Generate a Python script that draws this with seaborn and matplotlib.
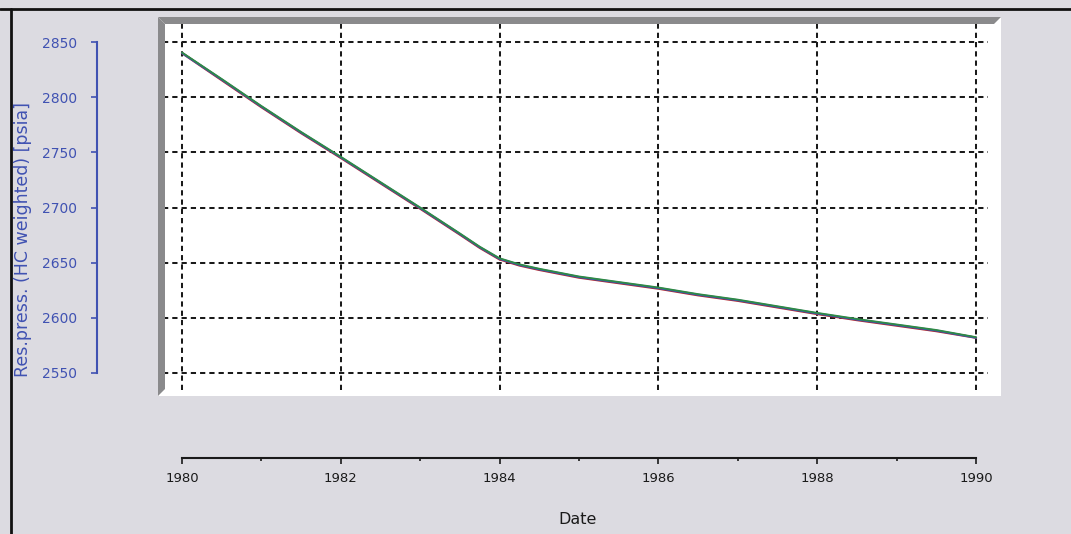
import matplotlib
matplotlib.use("Agg")
import matplotlib.pyplot as plt
from matplotlib.patches import Polygon
from matplotlib.lines import Line2D
from matplotlib.ticker import MultipleLocator
import seaborn as sns
import pandas as pd

# Reservoir pressure (HC weighted), psia, sampled in decimal years
years = [1980.0, 1980.5, 1981.0, 1981.5, 1982.0, 1982.5, 1983.0, 1983.5, 1983.75,
         1984.0, 1984.25, 1984.5, 1985.0, 1985.5, 1986.0, 1986.5, 1987.0, 1987.5,
         1988.0, 1988.5, 1989.0, 1989.5, 1990.0]
press_red = [2840.0, 2815.5, 2791.0, 2767.5, 2745.0, 2722.0, 2699.0, 2675.5, 2663.5,
             2653.0, 2647.5, 2643.5, 2636.5, 2631.5, 2626.5, 2620.5, 2615.5, 2609.5,
             2603.5, 2598.0, 2593.0, 2588.0, 2582.0]
press_blue = [2840.0, 2816.0, 2791.5, 2768.0, 2745.5, 2722.5, 2699.5, 2676.0, 2664.0,
              2653.5, 2648.0, 2644.0, 2637.0, 2632.0, 2627.0, 2621.0, 2616.0, 2610.0,
              2604.0, 2598.5, 2593.5, 2588.5, 2582.0]
press_green = [2840.5, 2816.5, 2792.0, 2768.5, 2746.0, 2723.0, 2700.0, 2676.5, 2664.5,
               2654.0, 2648.5, 2644.5, 2637.5, 2632.5, 2627.5, 2621.5, 2616.5, 2610.5,
               2604.5, 2599.0, 2594.0, 2589.0, 2582.5]

x_ticks = [1980, 1982, 1984, 1986, 1988, 1990]
y_ticks = [2550, 2600, 2650, 2700, 2750, 2800, 2850]

BG = "#dcdbe1"
AX_BLUE = "#4052b2"
FRAME = "#8a8a8c"

sns.set_style("white")
plt.rcParams["font.family"] = ["DejaVu Sans"]

W, H = 1071, 534
fig = plt.figure(figsize=(W / 100, H / 100), dpi=100, facecolor=BG)

# plot panel in pixel units: left 158, right 1001, top 17, bottom 396
L, R, T, B = 158, 1001, 17, 396
ax = fig.add_axes([L / W, 1 - B / H, (R - L) / W, (B - T) / H])
ax.set_facecolor("white")

# axis ranges so that 1980..1990 and 2550..2850 fall on the grid positions
px_per_year = (976 - 182) / 10.0
px_per_psi = (373 - 42) / 300.0
ax.set_xlim(1980 - (182 - L) / px_per_year, 1990 + (R - 976) / px_per_year)
ax.set_ylim(2550 - (B - 373) / px_per_psi, 2850 + (42 - T) / px_per_psi)

# dashed grid
grid_kw = dict(color="#1a1a1a", lw=1.45, dashes=(2.6, 2.0), zorder=1)
for yv in y_ticks:
    ax.axhline(yv, xmin=0.006, xmax=0.985, **grid_kw)
for xv in range(1980, 1991, 2):
    ax.axvline(xv, ymin=0.016, ymax=0.987, **grid_kw)

# pressure curves
df = pd.DataFrame({"year": years, "red": press_red, "blue": press_blue, "green": press_green})
sns.lineplot(data=df, x="year", y="red", color="#b3262a", lw=1.7, ax=ax, zorder=3)
sns.lineplot(data=df, x="year", y="blue", color="#3356b8", lw=1.5, ax=ax, zorder=4)
sns.lineplot(data=df, x="year", y="green", color="#2f8a45", lw=1.3, ax=ax, zorder=5)

# bevelled frame on the left and top of the panel
fw, fh = 7 / (R - L), 7 / (B - T)
ax.add_patch(Polygon([(0, 1), (fw, 1 - fh), (fw, fh), (0, 0)], closed=True,
                     transform=ax.transAxes, facecolor=FRAME, edgecolor="none",
                     zorder=6, clip_on=False))
ax.add_patch(Polygon([(0, 1), (1, 1), (1 - fw, 1 - fh), (fw, 1 - fh)], closed=True,
                     transform=ax.transAxes, facecolor=FRAME, edgecolor="none",
                     zorder=6, clip_on=False))

# detached axes
for s in ("top", "right"):
    ax.spines[s].set_visible(False)
ax.spines["left"].set_position(("outward", 61 * 0.72))
ax.spines["left"].set_bounds(2550, 2850)
ax.spines["left"].set_color(AX_BLUE)
ax.spines["left"].set_linewidth(1.5)
ax.spines["bottom"].set_position(("outward", 62 * 0.72))
ax.spines["bottom"].set_bounds(1980, 1990)
ax.spines["bottom"].set_color("#1a1a1a")
ax.spines["bottom"].set_linewidth(1.5)

ax.set_yticks(y_ticks)
ax.set_yticklabels([str(v) for v in y_ticks])
ax.set_xticks(x_ticks)
ax.set_xticklabels([str(v) for v in x_ticks])
ax.xaxis.set_minor_locator(MultipleLocator(1))

ax.tick_params(axis="y", which="major", direction="out", length=4.3, width=1.2,
               color=AX_BLUE, labelcolor=AX_BLUE, labelsize=10, pad=10, left=True)
ax.tick_params(axis="x", which="major", direction="out", length=4.3, width=1.2,
               color="#1a1a1a", labelcolor="#1a1a1a", labelsize=9.5, pad=6, bottom=True)
ax.tick_params(axis="x", which="minor", direction="out", length=2.2, width=1.2,
               color="#1a1a1a", bottom=True)
ax.set_xlabel("")
ax.set_ylabel("")

fig.text(23 / W, 1 - 239.5 / H, "Res.press. (HC weighted) [psia]", rotation=90,
         ha="center", va="center", fontsize=12.5, color=AX_BLUE)
fig.text(577.5 / W, 1 - 519 / H, "Date", ha="center", va="center",
         fontsize=11.5, color="#1a1a1a")

# window border
fig.add_artist(Line2D([0, 1], [1 - 9 / H, 1 - 9 / H], transform=fig.transFigure,
                      color="#111111", lw=2))
fig.add_artist(Line2D([11 / W, 11 / W], [0, 1 - 9 / H], transform=fig.transFigure,
                      color="#111111", lw=2))

fig.savefig("out.png", dpi=100, facecolor=BG)
